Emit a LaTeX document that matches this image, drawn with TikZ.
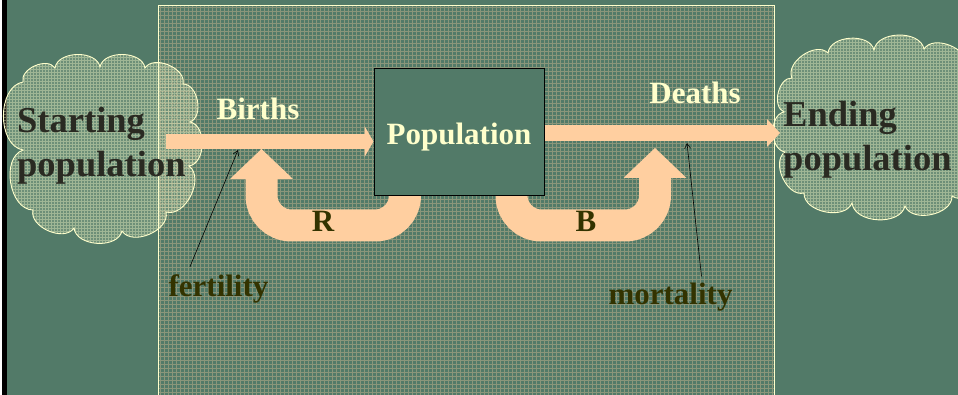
\documentclass[tikz,border=0pt]{standalone}
\usepackage{fontspec}
\setmainfont{Liberation Serif}
\usetikzlibrary{arrows.meta}
\definecolor{bggreen}{HTML}{527A68}
\definecolor{peach}{HTML}{FFCFA0}
\definecolor{cream}{HTML}{FFFFCC}
\definecolor{olive}{HTML}{333300}
\definecolor{cloudink}{HTML}{2A2A22}
\begin{document}
\begin{tikzpicture}[x=1pt,y=-1pt,
  lbl/.style={font=\fontsize{31}{37}\selectfont\bfseries, inner sep=0pt},
  lightlbl/.style={lbl, text=cream},
  darklbl/.style={lbl, text=olive},
  cloudtxt/.style={font=\fontsize{36.5}{44}\selectfont\bfseries, text=cloudink,
    align=left, inner sep=0pt, anchor=north west},
  puff/.style={draw=cream, line width=0.9pt, fill=cream, fill opacity=0.16,
    path picture={\draw[cream, opacity=0.35, line width=0.7pt, step=3pt]
      (path picture bounding box.south west) grid (path picture bounding box.north east);}},
  pf/.style={bend left=80},
  stock/.style={draw=black, line width=1pt, fill=bggreen, inner sep=0pt,
    minimum width=170pt, minimum height=127pt, text=cream,
    font=\fontsize{31}{37}\selectfont\bfseries, text height=23.6pt, text depth=0pt},
  flowin/.style={draw=peach, line width=15pt,
    -{Triangle[length=9pt,width=31pt,line width=0pt]}},
  flowout/.style={draw=peach, line width=16pt,
    -{Triangle[length=13pt,width=28pt,line width=0pt]}},
  loopflow/.style={draw=peach, line width=32pt, rounded corners=30pt,
    -{Triangle[length=30pt,width=63pt,line width=0pt]}},
  leader/.style={draw=black, line width=0.6pt, -{Straight Barb[length=5pt,width=6pt]}}]

\useasboundingbox (0,0) rectangle (958,395);

% backdrop and left edge
\fill[bggreen] (0,0) rectangle (958,395);
\fill[white] (0,0) rectangle (2,395);
\fill[black] (2,0) rectangle (7,395);

% textured system panel
\fill[bggreen] (158,5.3) rectangle (774,400);
\begin{scope}
  \clip (158,5.3) rectangle (774,400);
  \draw[peach, opacity=0.33, line width=1pt, step=4pt] (156,0) grid (776,400);
\end{scope}
\draw[cream, line width=1pt] (158,400) -- (158,5.3) -- (774,5.3) -- (774,400);

% source cloud
\draw[puff] (23,82) to[pf] (55,68) to[pf] (100,67) to[pf] (145,68) to[pf] (183,84)
  to[pf] (190,122) to[pf] (189,166) to[pf] (166,212) to[pf] (122,231)
  to[pf] (74,228) to[pf] (33,210) to[pf] (23,150) to[pf] (23,82) -- cycle;
% sink cloud
\draw[puff] (792,78) to[pf] (828,53) to[pf] (874,50) to[pf] (924,49) to[pf] (966,66)
  to[pf] (988,104) to[pf] (988,160) to[pf] (952,196) to[pf] (905,206)
  to[pf] (852,203) to[pf] (804,193) to[pf] (785,152) to[pf] (784,112) to[pf] (792,78) -- cycle;

% feedback loops
\coordinate (rtop) at (405,190);
\coordinate (rtip) at (261.5,149);
\coordinate (btop) at (511.5,190);
\coordinate (btip) at (655,148);
\draw[loopflow] (rtop) -- (405,225.5) -- (261.5,225.5) -- (rtip);
\draw[loopflow] (btop) -- (511.5,225.5) -- (655,225.5) -- (btip);

% stock
\node[stock] (pop) at (459,132.5) {Population};

% flows
\coordinate (bstart) at (166,141.5);
\coordinate (dend) at (780,133);
\draw[flowin] (bstart) -- (pop.west |- bstart);
\draw[flowout] (pop.east |- dend) -- (dend);

% labels
\node[lightlbl, anchor=base] (births) at (258,120) {Births};
\node[lightlbl, anchor=base] (deaths) at (695,104) {Deaths};
\node[darklbl, anchor=base] (rlbl) at (323,231.7) {R};
\node[darklbl, anchor=base] (blbl) at (586,231.7) {B};
\node[darklbl, anchor=base] (fert) at (218.5,296.7) {fertility};
\node[darklbl, anchor=base] (mort) at (670.5,305) {mortality};

\node[cloudtxt] (ltext) at (17,107) {Starting\\population};
\node[cloudtxt] (rtext) at (783,101) {Ending\\population};

% rate pointers
\coordinate (fertpt) at (238,150);
\coordinate (mortpt) at (687,143);
\draw[leader] ([xshift=-28.5pt,yshift=8pt]fert.north) -- (fertpt);
\draw[leader] ([xshift=31pt,yshift=7pt]mort.north) -- (mortpt);
\end{tikzpicture}
\end{document}
